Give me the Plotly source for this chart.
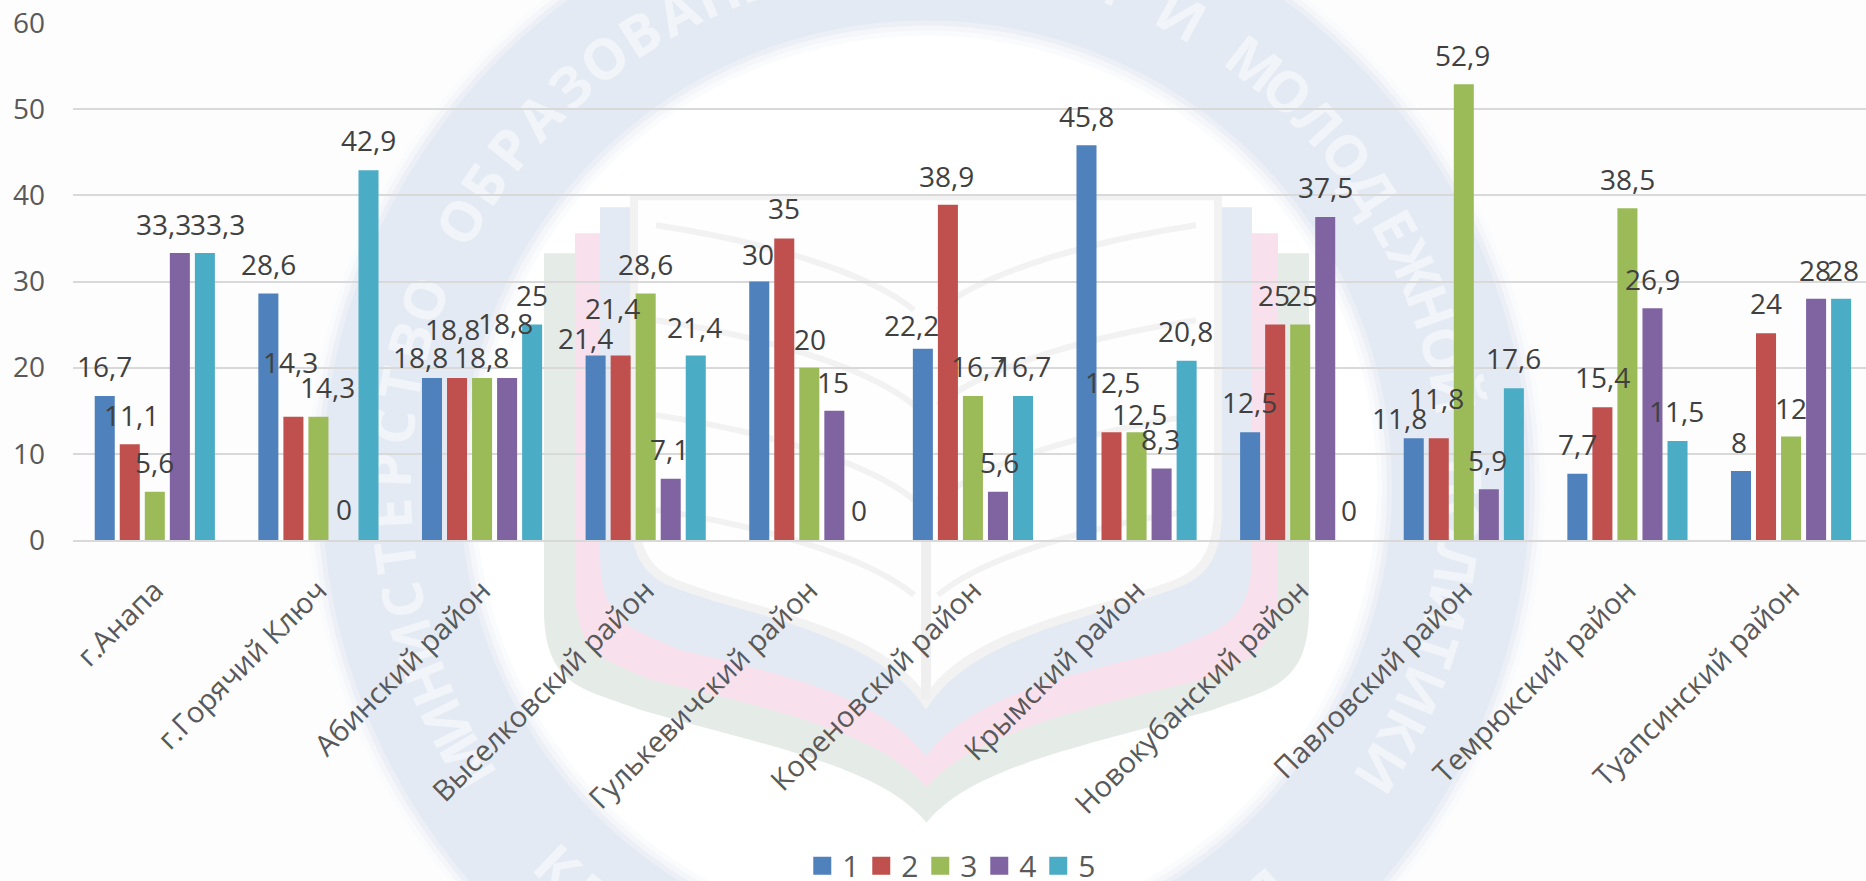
import math
import plotly.graph_objects as go

districts = ["г.Анапа", "г.Горячий Ключ", "Абинский район", "Выселковский район",
             "Гулькевичский район", "Кореновский район", "Крымский район",
             "Новокубанский район", "Павловский район", "Темрюкский район", "Туапсинский район"]
series_names = ["1", "2", "3", "4", "5"]
s1 = [16.7, 28.6, 18.8, 21.4, 30, 22.2, 45.8, 12.5, 11.8, 7.7, 8]
s2 = [11.1, 14.3, 18.8, 21.4, 35, 38.9, 12.5, 25, 11.8, 15.4, 24]
s3 = [5.6, 14.3, 18.8, 28.6, 20, 16.7, 12.5, 25, 52.9, 38.5, 12]
s4 = [33.3, 0, 18.8, 7.1, 15, 5.6, 8.3, 37.5, 5.9, 26.9, 28]
s5 = [33.3, 42.9, 25, 21.4, 0, 16.7, 20.8, 0, 17.6, 11.5, 28]
series_values = [s1, s2, s3, s4, s5]
colors = ["#4F81BD", "#C0504D", "#9BBB59", "#8064A2", "#4BACC6"]

# label nudges (pixels), per series, reproducing the hand-placed data labels
label_dx = [
    [0, 0, -11, -10, -1, -11, 0, 0, -14, 0, -2],
    [2, -3, -4, -8, 0, -1, 1, -1, -2, 0, 0],
    [0, 9, -1, 0, 1, 6, 3, 2, -1, 0, 0],
    [-16, 0, -2, -1, -1, 1, -1, 0, -1, 0, -1],
    [12, 0, 0, -1, -1, 0, -1, -1, -1, -1, 2],
]
label_dy = [
    [30, 30, 21, 18, 28, 24, 29, 30, 20, 30, 29],
    [29, 55, 49, 48, 30, 29, 50, 30, 40, 30, 30],
    [30, 30, 21, 30, 29, 30, 18, 30, 29, 29, 29],
    [29, 31, 55, 30, 29, 30, 29, 30, 29, 29, 29],
    [29, 30, 30, 29, 30, 30, 30, 30, 30, 30, 29],
]

W, H = 1866, 881
LEFT, TOP, BOTTOM = 73, 22.5, 540
GROUP = 163.6
PITCH = 25.1 / GROUP
FONT = "Open Sans"

def px(x):
    return (x - LEFT) / (W - LEFT)

def py(y):
    return (BOTTOM - y) / (BOTTOM - TOP)

def P(x, y):
    return f"{px(x):.5f},{py(y):.5f}"

shapes = []

def circle(cx, cy, r, color):
    shapes.append(dict(type="circle", xref="paper", yref="paper", layer="below",
                       x0=px(cx - r), x1=px(cx + r), y0=py(cy + r), y1=py(cy - r),
                       fillcolor=color, line=dict(width=0)))

CX, CY = 926, 486
BG = "#FDFDFD"
BLUE = "#E4EAF3"
# soft edged ring of the emblem
for r, c in [(619, "#FAFBFC"), (614, "#F4F6FA"), (609, "#ECF0F6"), (604, BLUE),
             (466, "#ECF0F6"), (461, "#F4F6FA"), (456, "#FAFBFC"), (451, "#FFFFFF")]:
    circle(CX, CY, r, c)

def shield(L, R, T, c1, c2, tip, color):
    xa, ya, xb, yb, xc, yc, xd, yd = c1
    mx = lambda x: L + R - x
    path = ("M" + P(L, T) + " L" + P(R, T) + " L" + P(R, c2) +
            " C" + P(R, ya) + " " + P(mx(xa), ya) + " " + P(mx(xb), yb) +
            " C" + P(mx(xc), yc) + " " + P(mx(xd), yd) + " " + P((L + R) / 2, tip) +
            " C" + P(xd, yd) + " " + P(xc, yc) + " " + P(xb, yb) +
            " C" + P(xa, ya) + " " + P(L, ya) + " " + P(L, c2) + " Z")
    shapes.append(dict(type="path", path=path, xref="paper", yref="paper", layer="below",
                       fillcolor=color, line=dict(width=0)))

# nested bands of the shield in the emblem
shield(544, 1309, 253, (590, 690, 640, 710, 760, 745, 880, 765), 610, 823, "#E5EBE7")
shield(575, 1278, 233, (610, 660, 650, 680, 780, 710, 880, 735), 585, 787, "#F8E1EC")
shield(600, 1252, 207, (640, 630, 680, 650, 790, 675, 885, 700), 555, 757, "#E4EAF3")
shield(630, 1222, 194, (670, 585, 710, 600, 800, 625, 890, 650), 510, 710, "#F2F2F2")
shield(638, 1214, 200, (675, 578, 712, 592, 800, 617, 890, 640), 505, 695, "#FEFEFE")

def line(pts, width=6, color="#F2F2F2"):
    a, b, c, d = pts
    shapes.append(dict(type="path", xref="paper", yref="paper", layer="below",
                       path="M" + P(*a) + " C" + P(*b) + " " + P(*c) + " " + P(*d),
                       line=dict(color=color, width=width)))

# open book strokes inside the shield
for off in [0, 95, 190, 285]:
    for side in (-1, 1):
        line([(CX + side * 270, 225 + off), (CX + side * 170, 240 + off),
              (CX + side * 60, 270 + off), (CX + side * 12, 310 + off)])
shapes.append(dict(type="line", xref="paper", yref="paper", layer="below",
                   x0=px(CX), x1=px(CX), y0=py(530), y1=py(700),
                   line=dict(color="#EFEFEF", width=10)))

def letter(ch, x, y, angle):
    if ch == " " or ch == ",":
        return
    shapes.append(dict(type="rect", xref="paper", yref="paper", layer="below",
                       x0=px(x - 2), x1=px(x + 2), y0=py(y + 2), y1=py(y - 2),
                       fillcolor="rgba(0,0,0,0)", line=dict(width=0),
                       label=dict(text=ch, textangle=angle, textposition="middle center",
                                  font=dict(family=FONT, size=56, color="#F1F4F8", weight="bold"))))

ring_top = "МИНИСТЕРСТВО ОБРАЗОВАНИЯ, НАУКИ И МОЛОДЕЖНОЙ ПОЛИТИКИ"
ring_bottom = "КРАСНОДАРСКОГО КРАЯ"
RM = 533
for i, ch in enumerate(ring_top):
    th = math.radians(-121 + 4.67 * i)
    letter(ch, CX + RM * math.sin(th), CY - RM * math.cos(th), math.degrees(th))
for i, ch in enumerate(ring_bottom):
    ph = math.radians(-44 + 4.67 * i)
    y = CY + RM * math.cos(ph)
    if y < 900:
        letter(ch, CX + RM * math.sin(ph), y, -math.degrees(ph))

fig = go.Figure()
xs = list(range(len(districts)))
annotations = []
for k, (name, vals, col) in enumerate(zip(series_names, series_values, colors)):
    fig.add_trace(go.Bar(name=name, x=xs, y=vals, marker=dict(color=col, line=dict(width=0)),
                         showlegend=False, legendgroup=name))
    # square key for the legend, larger than the bar default
    fig.add_trace(go.Scatter(name=name, x=[None], y=[None], mode="markers", legendgroup=name,
                             marker=dict(symbol="square", size=16, color=col, line=dict(width=2, color=col))))
    for i, v in enumerate(vals):
        annotations.append(dict(x=i + (k - 2) * PITCH, y=v, xref="x", yref="y",
                                text=f"{v:g}".replace(".", ","), showarrow=False,
                                xshift=label_dx[k][i], yshift=label_dy[k][i], yanchor="middle", xanchor="center",
                                font=dict(family=FONT, size=28, color="#404040")))

fig.update_layout(
    width=W, height=H,
    paper_bgcolor=BG, plot_bgcolor="rgba(0,0,0,0)",
    margin=dict(l=LEFT, r=0, t=TOP, b=H - BOTTOM, autoexpand=False),
    barmode="group", bargap=0.235, bargroupgap=0.2,
    shapes=shapes, annotations=annotations,
    font=dict(family=FONT, color="#595959"),
    xaxis=dict(range=[-0.5, 10.458], tickmode="array", tickvals=xs, ticktext=districts,
               tickangle=-45, tickfont=dict(family=FONT, size=29, color="#595959"),
               ticks="", ticklabelstandoff=20, showgrid=False, zeroline=False,
               showline=True, linecolor="#D9D9D9", linewidth=2, automargin=False),
    yaxis=dict(range=[0, 60], tickvals=[0, 10, 20, 30, 40, 50, 60],
               tickfont=dict(family=FONT, size=28, color="#595959"), ticks="",
               showgrid=True, gridcolor="#D9D9D9", gridwidth=1.5, zeroline=False, automargin=False,
               ticklabelstandoff=27),
    legend=dict(orientation="h", x=0.489, xanchor="center", y=-0.63, yanchor="middle",
                bgcolor="rgba(0,0,0,0)", font=dict(family=FONT, size=30, color="#595959"),
                entrywidth=14, entrywidthmode="pixels", itemclick=False, itemdoubleclick=False),
)
fig.write_html("out.html", config={"displayModeBar": False},
               post_script="document.body.style.margin='0';document.body.style.overflow='hidden';")
